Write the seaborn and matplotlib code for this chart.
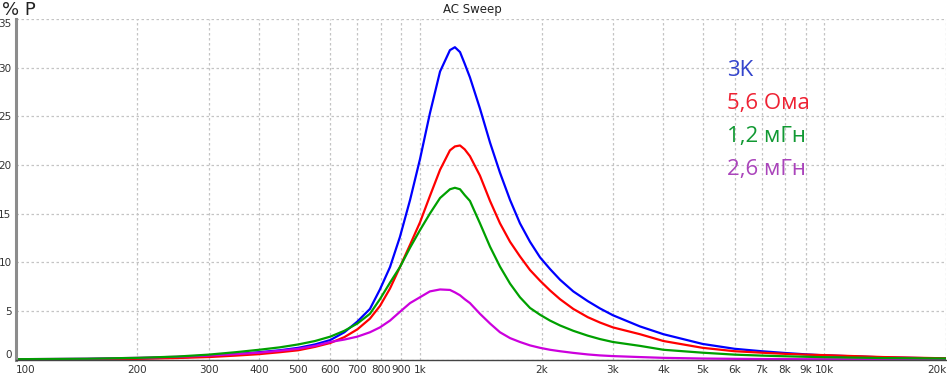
import numpy as np
import pandas as pd
import matplotlib
matplotlib.use("Agg")
import matplotlib.pyplot as plt
import seaborn as sns

# ---- data ----
freq = [100, 150, 200, 250, 300, 350, 400, 450, 500, 550,
        600, 650, 700, 752, 796, 843, 892, 945, 1000, 1058,
        1121, 1186, 1220, 1256, 1290, 1329, 1407, 1490, 1577, 1670,
        1767, 1871, 1981, 2097, 2220, 2394, 2600, 2787, 3000, 3500, 4000,
        5000, 6000, 7000, 8000, 9000, 10000, 14000, 20000]

blue_3k = [0.03, 0.05, 0.10, 0.20, 0.35, 0.55, 0.75, 0.95, 1.2, 1.55,
           2.0, 2.8, 3.9, 5.2, 7.2, 9.5, 12.6, 16.4, 20.6, 25.3,
           29.6, 31.8, 32.1, 31.6, 30.4, 29.0, 25.8, 22.3, 19.2, 16.4,
           14.0, 12.1, 10.5, 9.3, 8.2, 7.0, 6.0, 5.25, 4.55, 3.4, 2.6,
           1.6, 1.1, 0.85, 0.67, 0.53, 0.43, 0.22, 0.1]
red_56 = [0.03, 0.03, 0.07, 0.15, 0.25, 0.4, 0.55, 0.75, 0.95, 1.3,
          1.7, 2.3, 3.1, 4.2, 5.5, 7.3, 9.5, 11.8, 14.1, 16.8,
          19.5, 21.5, 21.9, 22.0, 21.6, 20.9, 18.9, 16.3, 14.0, 12.1,
          10.6, 9.2, 8.1, 7.1, 6.2, 5.2, 4.35, 3.8, 3.3, 2.6, 1.9,
          1.2, 0.85, 0.7, 0.58, 0.5, 0.45, 0.25, 0.12]
green_12 = [0.03, 0.08, 0.17, 0.3, 0.5, 0.75, 1.0, 1.25, 1.55, 1.9,
            2.35, 2.95, 3.7, 4.7, 6.2, 7.9, 9.5, 11.5, 13.3, 15.0,
            16.6, 17.5, 17.65, 17.5, 16.9, 16.3, 14.0, 11.6, 9.55, 7.8,
            6.4, 5.3, 4.6, 4.0, 3.5, 2.95, 2.45, 2.1, 1.8, 1.4, 1.0,
            0.7, 0.5, 0.4, 0.33, 0.28, 0.24, 0.15, 0.1]
purple_26 = [0.03, 0.08, 0.17, 0.28, 0.4, 0.55, 0.7, 0.9, 1.1, 1.4,
             1.8, 2.05, 2.35, 2.8, 3.3, 4.0, 4.9, 5.8, 6.4, 7.0,
             7.2, 7.15, 6.9, 6.6, 6.2, 5.8, 4.7, 3.7, 2.8, 2.2,
             1.8, 1.45, 1.2, 1.0, 0.85, 0.68, 0.52, 0.42, 0.35, 0.25, 0.17,
             0.1, 0.07, 0.05, 0.04, 0.03, 0.03, 0.02, 0.02]

series_names = ["3K", "5,6 Ома", "1,2 мГн", "2,6 мГн"]
line_colors = ["#0000ff", "#ff0000", "#00a000", "#cc00dd"]
text_colors = ["#3344cc", "#ee2233", "#119933", "#aa44bb"]
draw_order = ["3K", "5,6 Ома", "2,6 мГн", "1,2 мГн"]

xtick_vals = [100, 200, 300, 400, 500, 600, 700, 800, 900, 1000, 2000, 3000, 4000,
              5000, 6000, 7000, 8000, 9000, 10000, 20000]
xtick_labels = ["100", "200", "300", "400", "500", "600", "700", "800", "900", "1k",
                "2k", "3k", "4k", "5k", "6k", "7k", "8k", "9k", "10k", "20k"]
ytick_vals = [0, 5, 10, 15, 20, 25, 30, 35]

# ---- build table ----
frames = []
for name, vals in zip(series_names, [blue_3k, red_56, green_12, purple_26]):
    frames.append(pd.DataFrame({"freq": freq, "value": vals, "series": name}))
df = pd.concat(frames, ignore_index=True)

sns.set_theme(style="white")
plt.rcParams['font.family'] = ['DejaVu Sans']

W, H = 947, 379
fig = plt.figure(figsize=(W / 100, H / 100), dpi=100)
x0, x1 = 15.7, 946.0
y_top, y_bot = 19.0, 359.5
ax = fig.add_axes([x0 / W, 1 - y_bot / H, (x1 - x0) / W, (y_bot - y_top) / H])

sns.lineplot(data=df, x="freq", y="value", hue="series", hue_order=draw_order,
             palette=dict(zip(series_names, line_colors)), sort=False,
             estimator=None, legend=False, linewidth=1.6, ax=ax)
for ln in ax.get_lines():
    ln.set_solid_joinstyle("round")

ax.set_xscale("log")
ax.set_xlim(100, 20000)
ax.set_ylim(0, 35)
ax.set_xlabel("")
ax.set_ylabel("")

ax.set_xticks(xtick_vals)
ax.set_xticklabels(xtick_labels)
ax.xaxis.set_minor_locator(matplotlib.ticker.NullLocator())
ax.set_yticks(ytick_vals)
ax.set_yticklabels([str(v) for v in ytick_vals])

ax.tick_params(axis="x", length=2, width=0.8, color="#555555", pad=2,
               labelsize=7.5, labelcolor="#333333", direction="out")
ax.tick_params(axis="y", length=2, width=0.8, color="#555555", pad=1,
               labelsize=7.5, labelcolor="#333333", direction="out")
tl = ax.get_xticklabels()
tl[0].set_horizontalalignment("left")
tl[-1].set_horizontalalignment("right")
yl = ax.get_yticklabels()
yl[0].set_verticalalignment("bottom")
yl[-1].set_verticalalignment("top")

ax.grid(True, which="major", color="#c4c4c4", linestyle=(0, (2, 2)), linewidth=0.9)
for s in ["top", "right"]:
    ax.spines[s].set_visible(False)
ax.spines["left"].set_color("#8c8c8c")
ax.spines["left"].set_linewidth(2.2)
ax.spines["bottom"].set_color("#444444")
ax.spines["bottom"].set_linewidth(1.0)

fig.text(472 / W, 1 - 9 / H, "AC Sweep", ha="center", va="center",
         fontsize=8.5, color="#222222")
fig.text(2 / W, 1 - 10 / H, "% P", ha="left", va="center",
         fontsize=13, color="#222222")

baselines = [76, 109, 142, 175]
for name, c, yb in zip(series_names, text_colors, baselines):
    fig.text(727 / W, 1 - yb / H, name, ha="left", va="baseline",
             fontsize=16, color=c, family=["Open Sans", "DejaVu Sans"])

fig.savefig("out.png", dpi=100, facecolor="white")
